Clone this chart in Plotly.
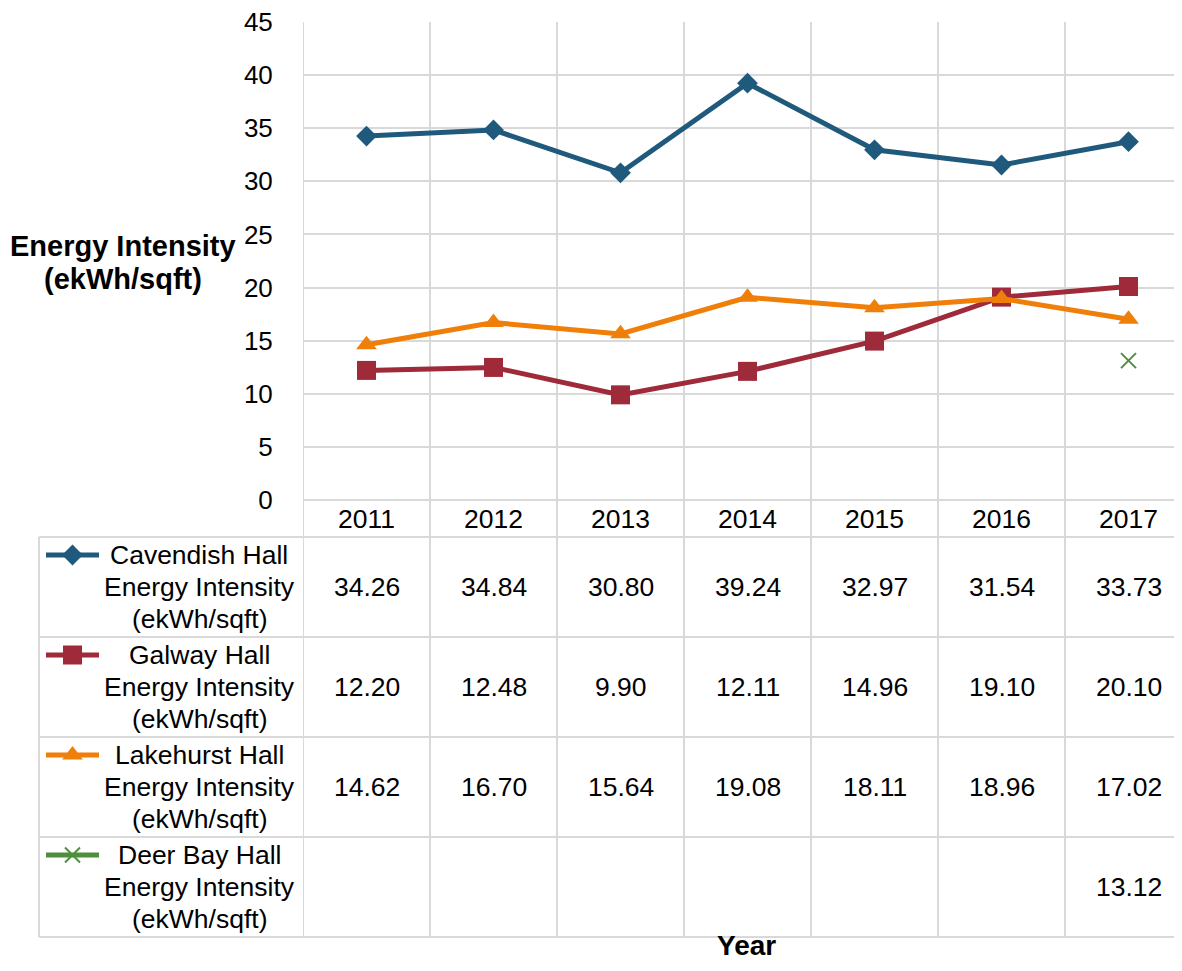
import plotly.graph_objects as go

years = ["2011", "2012", "2013", "2014", "2015", "2016", "2017"]
cavendish = [34.26, 34.84, 30.80, 39.24, 32.97, 31.54, 33.73]
galway = [12.20, 12.48, 9.90, 12.11, 14.96, 19.10, 20.10]
lakehurst = [14.62, 16.70, 15.64, 19.08, 18.11, 18.96, 17.02]
deerbay = [None, None, None, None, None, None, 13.12]
series_names = ["Cavendish Hall", "Galway Hall", "Lakehurst Hall", "Deer Bay Hall"]
unit_lines = ["Energy Intensity", "(ekWh/sqft)"]

# figure placed in the page with the browser's 8px body margin
OX, OY = 8, 8
W, H = 1182 - 2 * OX, 971 - 2 * OY
FONT = "Liberation Sans, Arial, sans-serif"
GRID = "#D9D9D9"

def py(p):  # reference screen px -> paper y
    return 1 - (p - OY) / H

def px(p):  # reference screen px -> paper x
    return (p - OX) / W

def fx(p):
    return p - OX

def fy(p):
    return p - OY

PLOT_L, PLOT_T, PLOT_B = 303, 22, 500
CAT_W = 127.0
n = len(years)
x_hi = (W - fx(PLOT_L)) / CAT_W - 0.5

styles = [
    dict(color="#1F5A7D", symbol="diamond", size=16, lw=5),
    dict(color="#9E2A3A", symbol="square", size=19, lw=5),
    dict(color="#F07F0A", symbol="triangle-up", size=18, lw=5),
    dict(color="#4E8F3E", symbol="x-thin", size=15, lw=5),
]
all_series = [cavendish, galway, lakehurst, deerbay]

def marker_of(st):
    mk = dict(color=st["color"], symbol=st["symbol"], size=st["size"])
    if st["symbol"] == "x-thin":
        mk["line"] = dict(color=st["color"], width=2)
    return mk

fig = go.Figure()
for name, vals, st in zip(series_names, all_series, styles):
    fig.add_trace(go.Scatter(
        x=years, y=vals, mode="lines+markers", name=name,
        line=dict(color=st["color"], width=st["lw"]),
        marker=marker_of(st), showlegend=False, xaxis="x", yaxis="y",
    ))

# legend keys inside the data table (pixel-space axes covering the page)
row_top = [537, 637, 737, 837]
row_h = 100
for i, st in enumerate(styles):
    yk = fy(row_top[i] + 18)
    fig.add_trace(go.Scatter(
        x=[fx(46), fx(99)], y=[yk, yk], mode="lines",
        line=dict(color=st["color"], width=st["lw"]),
        showlegend=False, xaxis="x2", yaxis="y2", hoverinfo="skip"))
    fig.add_trace(go.Scatter(
        x=[fx(72.5)], y=[yk], mode="markers", marker=marker_of(st),
        showlegend=False, xaxis="x2", yaxis="y2", hoverinfo="skip"))

shapes = []
for i in range(n + 1):
    shapes.append(dict(type="line", xref="x", yref="paper",
                       x0=i - 0.5, x1=i - 0.5, y0=py(937), y1=py(PLOT_T),
                       line=dict(color=GRID, width=2), layer="below"))
shapes.append(dict(type="line", xref="paper", yref="paper",
                   x0=px(PLOT_L), x1=1, y0=py(PLOT_B), y1=py(PLOT_B),
                   line=dict(color=GRID, width=2)))
for yl in [537, 637, 737, 837, 937]:
    shapes.append(dict(type="line", xref="paper", yref="paper",
                       x0=px(39), x1=1, y0=py(yl), y1=py(yl),
                       line=dict(color=GRID, width=2)))
shapes.append(dict(type="line", xref="paper", yref="paper",
                   x0=px(39), x1=px(39), y0=py(937), y1=py(537),
                   line=dict(color=GRID, width=2)))

TXT = dict(size=26.5, color="#000", family=FONT)
ann = []
for i, yr in enumerate(years):
    ann.append(dict(x=i, y=py(519), xref="x", yref="paper", text=yr,
                    xanchor="center", yanchor="middle", showarrow=False, font=TXT))
for r, vals in enumerate(all_series):
    yc = row_top[r] + row_h / 2
    for i, v in enumerate(vals):
        if v is None:
            continue
        ann.append(dict(x=i, y=py(yc), xref="x", yref="paper", text=f"{v:.2f}",
                        xanchor="center", yanchor="middle", showarrow=False, font=TXT))
    lines = [series_names[r]] + unit_lines
    for j, t in enumerate(lines):
        ann.append(dict(x=px(199), y=py(row_top[r] + 18 + 32 * j), xref="paper", yref="paper",
                        text=t, xanchor="center", yanchor="middle", showarrow=False, font=TXT))
for j, t in enumerate(["Energy Intensity", "(ekWh/sqft)"]):
    ann.append(dict(x=px(123), y=py(246 + 33 * j), xref="paper", yref="paper",
                    text=f"<b>{t}</b>", xanchor="center", yanchor="middle", showarrow=False,
                    font=dict(size=29, color="#000", family=FONT)))
ann.append(dict(x=px(746), y=0, xref="paper", yref="paper",
                text="<b>Year</b>", xanchor="center", yanchor="bottom", showarrow=False,
                font=dict(size=28, color="#000", family=FONT)))

fig.update_layout(
    width=W, height=H,
    margin=dict(l=0, r=0, t=0, b=0, autoexpand=False),
    paper_bgcolor="white", plot_bgcolor="rgba(0,0,0,0)",
    font=dict(family=FONT, color="#000"),
    xaxis=dict(domain=[px(PLOT_L), 1], type="category", range=[-0.5, x_hi],
               showgrid=False, showticklabels=False, zeroline=False,
               showline=False, ticks="", anchor="y"),
    yaxis=dict(domain=[py(PLOT_B), py(PLOT_T)], range=[0, 45], dtick=5, tick0=0,
               showgrid=True, gridcolor=GRID, gridwidth=2, zeroline=False,
               showline=False, ticks="outside", ticklen=0, ticklabelstandoff=24,
               ticklabeloverflow="allow",
               tickfont=dict(size=26, color="#000", family=FONT), anchor="x",
               automargin=False),
    xaxis2=dict(domain=[0, 1], range=[0, W], visible=False, anchor="y2"),
    yaxis2=dict(domain=[0, 1], range=[H, 0], visible=False, anchor="x2"),
    shapes=shapes, annotations=ann,
)

fig.write_html("out.html")
